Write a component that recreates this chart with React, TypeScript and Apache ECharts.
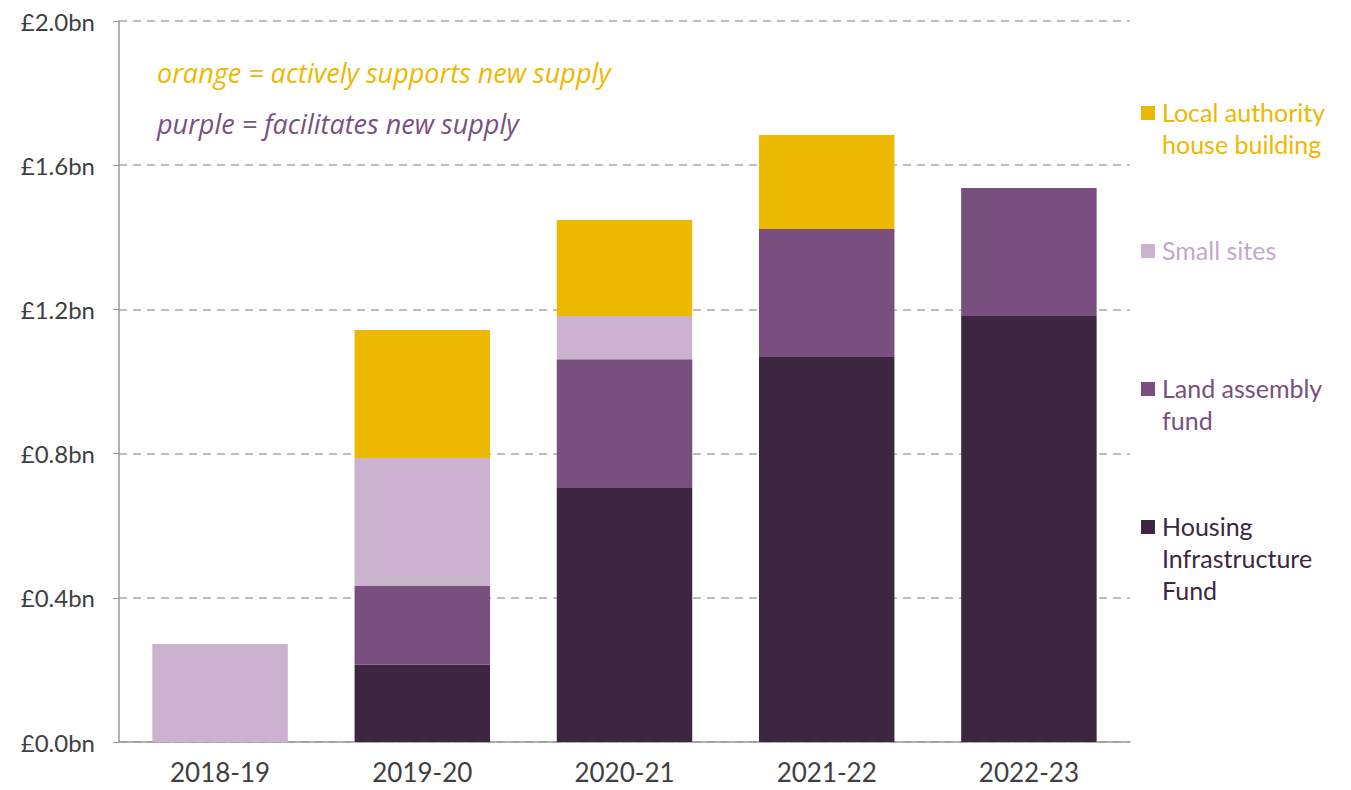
import React, { useEffect, useRef } from "react";
import * as echarts from "echarts";

const categories = ["2018-19", "2019-20", "2020-21", "2021-22", "2022-23"];
const housingInfrastructureFund = [0, 0.214, 0.707, 1.068, 1.182];
const landAssemblyFund = [0, 0.219, 0.355, 0.355, 0.355];
const smallSites = [0.272, 0.355, 0.12, 0, 0];
const localAuthorityHouseBuilding = [0, 0.355, 0.266, 0.261, 0];
const yTicks = [0, 0.4, 0.8, 1.2, 1.6, 2.0];

const COLORS = {
  hif: "#3D2740",
  laf: "#784F7F",
  ss: "#CBB2CF",
  la: "#EDB800",
};

const FONT = "Lato, 'Noto Sans', sans-serif";

export default function App() {
  const ref = useRef<HTMLDivElement>(null);
  useEffect(() => {
    if (!ref.current) return;
    const chart = echarts.init(ref.current, undefined, { renderer: "svg" });
    const mk = (name: string, data: number[], color: string) => ({
      name,
      type: "bar",
      stack: "total",
      data: data.map((v) => (v === 0 ? null : v)),
      barWidth: "67%",
      itemStyle: { color },
    });
    const legendItems = [
      { lines: ["Local authority", "house building"], color: COLORS.la, textColor: "#EDB800", y: 113 },
      { lines: ["Small sites"], color: COLORS.ss, textColor: "#C4A8CA", y: 251 },
      { lines: ["Land assembly", "fund"], color: COLORS.laf, textColor: "#784F7F", y: 389 },
      { lines: ["Housing", "Infrastructure", "Fund"], color: COLORS.hif, textColor: "#3D2740", y: 527 },
    ];
    const graphic: any[] = [];
    legendItems.forEach((it) => {
      graphic.push({
        type: "rect",
        shape: { x: 1141, y: it.y - 7, width: 14, height: 14 },
        style: { fill: it.color },
      });
      graphic.push({
        type: "text",
        x: 1162,
        y: it.y - 17,
        style: {
          text: it.lines.join("\n"),
          fill: it.textColor,
          font: `25px ${FONT}`,
          lineHeight: 32,
          textVerticalAlign: "top",
        },
      });
    });
    graphic.push({
      type: "text",
      x: 157,
      y: 72,
      style: {
        text: "orange = actively supports new supply",
        fill: "#EDB800",
        font: `italic 27px 'Open Sans', ${FONT}`,
        textVerticalAlign: "middle",
      },
    });
    graphic.push({
      type: "text",
      x: 157,
      y: 123,
      style: {
        text: "purple = facilitates new supply",
        fill: "#7A5080",
        font: `italic 27px 'Open Sans', ${FONT}`,
        textVerticalAlign: "middle",
      },
    });
    chart.setOption({
      animation: false,
      grid: { left: 119, right: 221, top: 21, bottom: 48, containLabel: false },
      xAxis: {
        type: "category",
        data: categories,
        axisLine: { lineStyle: { color: "#999", width: 1.5 } },
        axisTick: { show: false },
        axisLabel: { color: "#404040", fontSize: 26, fontFamily: FONT, margin: 17 },
      },
      yAxis: {
        type: "value",
        min: 0,
        max: 2,
        interval: 0.4,
        axisLine: { show: true, lineStyle: { color: "#999", width: 1.5 } },
        axisTick: { show: true, length: 6, lineStyle: { color: "#999" } },
        axisLabel: {
          color: "#404040",
          fontSize: 24,
          fontFamily: FONT,
          margin: 24,
          formatter: (v: number) => {
            const t = yTicks.find((x) => Math.abs(x - v) < 1e-6);
            return "£" + (t ?? v).toFixed(1) + "bn";
          },
        },
        splitLine: { lineStyle: { color: "#AAAAAA", type: [8, 6], width: 1.5 } },
      },
      series: [
        mk("Housing Infrastructure Fund", housingInfrastructureFund, COLORS.hif),
        mk("Land assembly fund", landAssemblyFund, COLORS.laf),
        mk("Small sites", smallSites, COLORS.ss),
        mk("Local authority house building", localAuthorityHouseBuilding, COLORS.la),
      ],
      graphic,
    });
    return () => chart.dispose();
  }, []);
  return (
    <div
      ref={ref}
      style={{ position: "fixed", left: 0, top: 0, width: 1351, height: 790, background: "#fff" }}
    />
  );
}
